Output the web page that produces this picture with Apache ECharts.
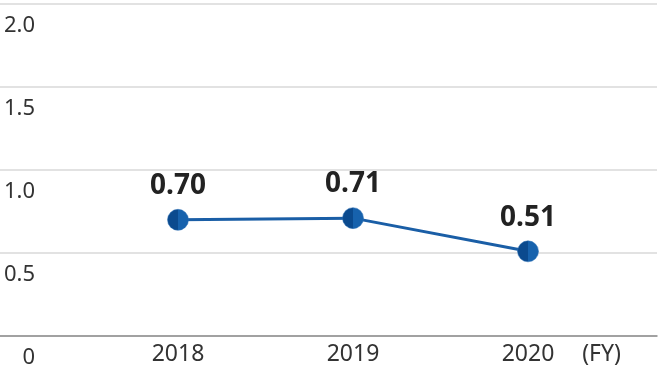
<!DOCTYPE html>
<html><head><meta charset="utf-8">
<script src="https://cdn.jsdelivr.net/npm/echarts@6/dist/echarts.min.js"></script>
<style>html,body{margin:0;padding:0;background:#fff}#c{width:658px;height:375px}</style>
</head><body><div id="c"></div>
<script>
const years = [2018, 2019, 2020];
const values = [0.70, 0.71, 0.51];
const valueLabels = ['0.70', '0.71', '0.51'];
const yTicks = [0, 0.5, 1.0, 1.5, 2.0];
const yTickLabels = ['0', '0.5', '1.0', '1.5', '2.0'];
const xUnitLabel = '(FY)';
const xUnitPos = 2020.42;

const chart = echarts.init(document.getElementById('c'));
const markerFill = new echarts.graphic.LinearGradient(0, 0, 1, 0, [
  {offset: 0, color: '#0b4a8e'}, {offset: 0.5, color: '#0b4a8e'},
  {offset: 0.5, color: '#1762ad'}, {offset: 1, color: '#1762ad'}
]);
chart.setOption({
  animation: false,
  grid: {left: 0, right: 1, top: 4, bottom: 39, containLabel: false},
  xAxis: {
    type: 'value', min: 2016.983, max: 2020.737,
    axisLine: {show: true, lineStyle: {color: '#8c8c8c', width: 1.5}},
    axisTick: {show: false},
    splitLine: {show: false},
    axisLabel: {
      customValues: years.concat([xUnitPos]),
      formatter: v => (Math.abs(v - xUnitPos) < 1e-6 ? xUnitLabel : String(Math.round(v))),
      color: '#333', fontFamily: 'Noto Sans', fontSize: 23, margin: 7
    }
  },
  yAxis: {
    type: 'value', min: 0, max: 2, interval: 0.5,
    axisLine: {show: false}, axisTick: {show: false},
    splitLine: {lineStyle: {color: '#d9d9d9', width: 1.5}},
    axisLabel: {
      inside: true, align: 'right', margin: 35, verticalAlign: 'top',
      lineHeight: 23, padding: [10, 0, 0, 0],
      color: '#333', fontFamily: 'Noto Sans', fontSize: 22,
      formatter: v => { const i = yTicks.findIndex(t => Math.abs(t - v) < 1e-6); return i >= 0 ? yTickLabels[i] : ''; }
    }
  },
  series: [{
    type: 'line',
    data: years.map((y, i) => [y, values[i]]),
    symbol: 'circle', symbolSize: 21,
    lineStyle: {color: '#1a5ea6', width: 3},
    itemStyle: {color: markerFill, borderColor: '#2a6fb5', borderWidth: 0.5},
    label: {
      show: true, position: 'top', distance: 9,
      formatter: p => valueLabels[p.dataIndex],
      fontFamily: 'Noto Sans', fontWeight: 'bold', fontSize: 28, color: '#222'
    }
  }]
});
</script></body></html>
